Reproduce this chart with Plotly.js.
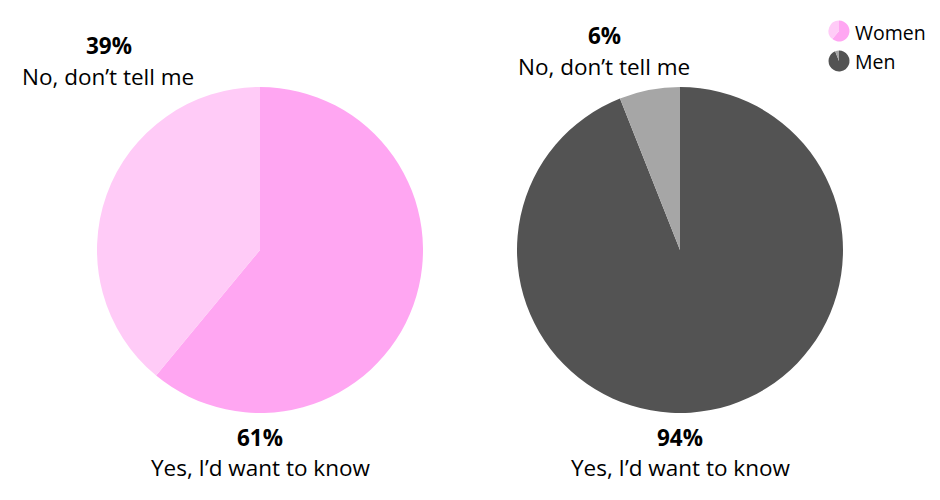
<!DOCTYPE html>
<html>
<head>
<meta charset="utf-8">
<script src="https://cdn.plot.ly/plotly-3.0.1.min.js"></script>
<style>html,body{margin:0;padding:0;background:#fff;}#chart{width:940px;height:500px;}</style>
</head>
<body>
<div id="chart"></div>
<script>
// Data
const answers = ["Yes, I’d want to know", "No, don’t tell me"];
const women = [61, 39];
const men = [94, 6];
const groups = ["Women", "Men"];
const womenColors = ["#FFA6F2", "#FFCBF7"];
const menColors = ["#535353", "#A6A6A6"];

const W = 940, H = 500;
const px = x => x / W;
const py = y => 1 - y / H;

function pie(values, colors, x0, x1, y0, y1) {
  return {
    type: "pie", values: values, labels: answers, sort: false,
    direction: "clockwise", rotation: 0,
    marker: {colors: colors, line: {width: 0}},
    textinfo: "none", hoverinfo: "skip", showlegend: false,
    domain: {x: [px(x0), px(x1)], y: [py(y1), py(y0)]}
  };
}

const traces = [
  pie(women, womenColors, 97, 423, 87, 413),
  pie(men, menColors, 517, 843, 87, 413),
  // legend icons
  pie(women, womenColors, 828.5, 849.5, 20.5, 41.5),
  pie(men, menColors, 828.5, 849.5, 50.5, 71.5)
];

const font = {family: "Open Sans, sans-serif", size: 22.5, color: "#000"};
const legFont = {family: "Open Sans, sans-serif", size: 19.5, color: "#000"};
function ann(text, x, y, opts) {
  return Object.assign({text: text, x: px(x), y: py(y), xref: "paper", yref: "paper",
    showarrow: false, xanchor: "center", yanchor: "middle", font: font}, opts || {});
}

const annotations = [
  ann("<b>" + women[1] + "%</b>", 109, 46),
  ann(answers[1], 108, 76),
  ann("<b>" + women[0] + "%</b>", 260, 437),
  ann(answers[0], 260, 467),
  ann("<b>" + men[1] + "%</b>", 604, 36),
  ann(answers[1], 604, 66),
  ann("<b>" + men[0] + "%</b>", 680, 437),
  ann(answers[0], 680, 467),
  ann(groups[0], 853, 32, {xanchor: "left", font: legFont}),
  ann(groups[1], 853, 61, {xanchor: "left", font: legFont})
];

Plotly.newPlot("chart", traces, {
  width: W, height: H,
  margin: {l: 0, r: 0, t: 0, b: 0},
  paper_bgcolor: "#fff", plot_bgcolor: "#fff",
  showlegend: false,
  annotations: annotations
}, {displayModeBar: false, staticPlot: true});
</script>
</body>
</html>
